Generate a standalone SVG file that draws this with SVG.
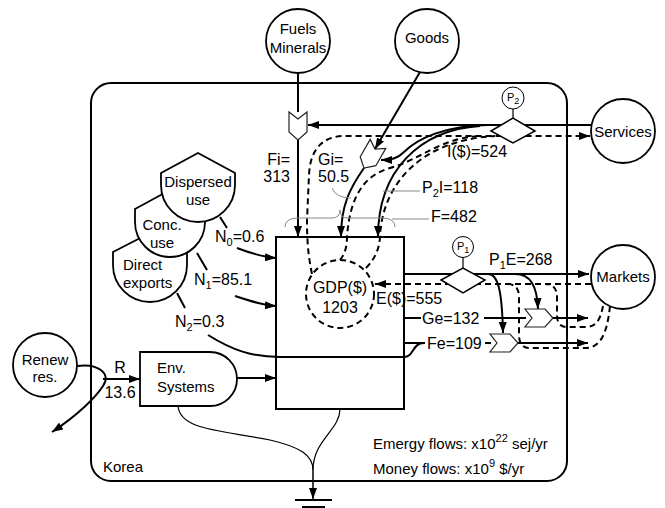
<svg xmlns="http://www.w3.org/2000/svg" width="665" height="508" viewBox="0 0 665 508">
<defs>
<marker id="ah" markerUnits="userSpaceOnUse" markerWidth="11" markerHeight="8" refX="11" refY="4" orient="auto">
<path d="M0,0 L11,4 L0,8 z" fill="#000"/>
</marker>
<style>
text{font-family:"Liberation Sans",Arial,sans-serif;fill:#000}
.lbl{font-size:16px}
.nl{font-size:15px;text-anchor:middle}
.sub{font-size:11px}
.f{fill:none;stroke:#000;stroke-width:2}
.d{fill:none;stroke:#000;stroke-width:2;stroke-dasharray:6 4}
.a{marker-end:url(#ah)}
.node{fill:#fff;stroke:#000;stroke-width:1.8}
.chev{fill:#fff;stroke:#222;stroke-width:1.2}
.thin{fill:none;stroke:#888;stroke-width:1}
</style>
</defs>
<rect width="665" height="508" fill="#fff"/>

<g id="korea">
<rect x="91" y="83" width="476" height="398" rx="20" fill="none" stroke="#000" stroke-width="2"/>
<text x="103" y="472" style="font-size:15px">Korea</text>
</g>

<g id="connectors">
<path class="f" d="M298,73 L298,112"/>
<path class="f a" d="M298,140 L298,237"/>
<path class="f a" d="M420,72 L375,149"/>
<path class="f a" d="M591,125 L308,125"/>
<path class="f a" d="M364,168 C350,188 341,205 341,237"/>
<path class="f a" d="M488,125 C445,126 418,138 404,152 C398,158 392,160 381,160"/>
<path class="f a" d="M480,126 C420,130 378,170 378,237"/>
<path class="d a" d="M312,274 C308,255 307,240 307,220 L309,175 C310,150 322,136 345,136 L590,136"/>
<path class="d" d="M340,260 Q347,252 347,237 C350,195 365,175 390,168 C420,160 440,138 480,136"/>
<path class="d" d="M366,268 Q379,255 380,237 C382,185 420,140 495,136"/>
<path class="f a" d="M404,274 L589,274"/>
<path class="d a" d="M591,284 L375,284"/>
<path class="f" d="M404,318 L421,318"/>
<path class="f" d="M484,318 L526,318"/>
<path class="f a" d="M553,318 L588,318"/>
<path class="f" d="M404,343 L425,343"/>
<path class="f" d="M485,343 L491,343"/>
<path class="f a" d="M518,343 L588,343"/>
<path class="f a" d="M488,274 C498,274 502,290 503,333"/>
<path class="f a" d="M515,274 C530,274 537,285 538,309"/>
<path class="d" d="M603,306 C600,322 595,327 585,327 L567,327 Q557,327 557,315 L557,297 Q557,284 545,284"/>
<path class="d" d="M610,306 C607,335 600,348 585,348 L530,348 Q519,348 519,335 L519,297 Q519,284 507,284"/>
<path class="f" d="M220,217 L227,228"/>
<path class="f a" d="M237,248 C250,253 262,257 276,258"/>
<path class="f" d="M197,253 L207,270"/>
<path class="f a" d="M235,296 C250,301 262,305 276,306"/>
<path class="f" d="M177,293 L185,308"/>
<path class="f" d="M208,335 C232,350 252,357 280,357 L404,357 C414,357 412,343 424,343"/>
<path class="f a" d="M77,366 C97,363 112,373 103,386 C96,397 78,415 52,432"/>
<path class="f a" d="M103,379 L140,379"/>
<path class="f a" d="M237,378 L276,378"/>
<path fill="none" stroke="#000" stroke-width="1.2" d="M340,409 C340,430 313,440 313,470"/>
<path fill="none" stroke="#000" stroke-width="1.2" d="M178,406 C180,430 220,430 270,440 C300,447 313,455 313,470"/>
<path fill="none" stroke="#000" stroke-width="1.5" class="a" d="M313,470 L313,499"/>
<path fill="none" stroke="#000" stroke-width="2" d="M295,500 L332,500 M302,507 L325,507"/>
<path class="thin" d="M332,188 Q336,198 351,198"/>
<path class="thin" d="M383,191 L420,191"/>
<path class="thin" d="M285,227 Q285,218 298,218 L332,218 Q340,218 340,210 Q340,218 348,218 L382,218 Q395,218 395,227"/>
<path class="thin" d="M392,219 L429,219"/>
</g>

<g id="fuels">
<circle class="node" cx="298" cy="41" r="32"/>
<text class="nl" x="298" y="34">Fuels</text>
<text class="nl" x="298" y="53">Minerals</text>
</g>
<g id="goods">
<circle class="node" cx="427" cy="41" r="32"/>
<text class="nl" x="427" y="43">Goods</text>
</g>
<g id="services">
<circle class="node" cx="623" cy="131" r="32"/>
<text class="nl" x="623" y="137">Services</text>
</g>
<g id="markets">
<circle class="node" cx="623" cy="277" r="32"/>
<text class="nl" x="623" y="282">Markets</text>
</g>
<g id="renew">
<circle class="node" cx="45" cy="365" r="32"/>
<text class="nl" x="45" y="365">Renew</text>
<text class="nl" x="45" y="382">res.</text>
</g>

<g id="fuels-chevron">
<path class="chev" d="M289,112 L298,119 L307,112 L307,132 L298,140 L289,132 Z"/>
</g>
<g id="goods-chevron">
<path class="chev" transform="translate(371,156) rotate(30)" d="M-9,-14 L0,-8 L9,-14 L9,6 L0,14 L-9,6 Z"/>
</g>
<g id="ge-chevron">
<path class="chev" d="M525,309 L545,309 L553,318 L545,327 L525,327 L532,318 Z"/>
</g>
<g id="fe-chevron">
<path class="chev" d="M490,334 L510,334 L518,343 L510,352 L490,352 L497,343 Z"/>
</g>

<g id="p2">
<path d="M491,131 L513,118 L535,131 L513,143 Z" fill="#fff" stroke="#000" stroke-width="1.5"/>
<path d="M513,109 L513,118" stroke="#000" stroke-width="1.2"/>
<circle cx="513" cy="98" r="11" fill="#fff" stroke="#000" stroke-width="1"/>
<text x="507" y="101" style="font-size:11px">P<tspan style="font-size:9px" dy="3">2</tspan></text>
</g>
<g id="p1">
<path d="M441,280 L463,268 L485,280 L463,293 Z" fill="#fff" stroke="#000" stroke-width="1.5"/>
<path d="M463,257 L463,268" stroke="#000" stroke-width="1.2"/>
<circle cx="463" cy="247" r="10.5" fill="#fff" stroke="#000" stroke-width="1"/>
<text x="457" y="250" style="font-size:11px">P<tspan style="font-size:9px" dy="3">1</tspan></text>
</g>

<g id="economy">
<rect x="276" y="237" width="128" height="172" fill="none" stroke="#000" stroke-width="2"/>
</g>
<g id="gdp">
<circle cx="340" cy="294" r="34" fill="none" stroke="#000" stroke-width="2" stroke-dasharray="6 4"/>
<text class="lbl" x="340" y="293" text-anchor="middle">GDP($)</text>
<text class="lbl" x="340" y="313" text-anchor="middle">1203</text>
</g>

<g id="direct-exports">
<path class="node" d="M113,252 L150,233 L187,252 L187,265 A37,37 0 0 1 113,265 Z"/>
<text x="123" y="270" style="font-size:15px">Direct</text>
<text x="123" y="288" style="font-size:15px">exports</text>
</g>
<g id="conc-use">
<path class="node" d="M135,209 L170,190 L205,209 L205,222 A35,35 0 0 1 135,222 Z"/>
<text class="nl" x="162" y="230">Conc.</text>
<text class="nl" x="162" y="248">use</text>
</g>
<g id="dispersed-use">
<path class="node" d="M161,173 L198,153 L235,173 L235,185 A37,37 0 0 1 161,185 Z"/>
<text class="nl" x="198" y="187">Dispersed</text>
<text class="nl" x="198" y="205">use</text>
</g>

<g id="env-systems">
<path class="node" d="M140,352 L210,352 A27,27 0 0 1 210,406 L140,406 Z"/>
<text x="157" y="373" style="font-size:15px">Env.</text>
<text x="157" y="392" style="font-size:15px">Systems</text>
</g>

<g id="labels" class="lbl">
<text x="290" y="165" text-anchor="end">Fi=</text>
<text x="290" y="182" text-anchor="end">313</text>
<text x="318" y="165">Gi=</text>
<text x="318" y="182">50.5</text>
<text x="447" y="157">I($)=524</text>
<text x="422" y="193">P<tspan class="sub" dy="4">2</tspan><tspan dy="-4">I=118</tspan></text>
<text x="431" y="222">F=482</text>
<text x="489" y="265">P<tspan class="sub" dy="4">1</tspan><tspan dy="-4">E=268</tspan></text>
<text x="376" y="304">E($)=555</text>
<text x="422" y="324">Ge=132</text>
<text x="427" y="349">Fe=109</text>
<text x="215" y="242">N<tspan class="sub" dy="4">0</tspan><tspan dy="-4">=0.6</tspan></text>
<text x="194" y="285">N<tspan class="sub" dy="4">1</tspan><tspan dy="-4">=85.1</tspan></text>
<text x="175" y="327">N<tspan class="sub" dy="4">2</tspan><tspan dy="-4">=0.3</tspan></text>
<text x="120" y="373" text-anchor="middle">R</text>
<text x="120" y="398" text-anchor="middle">13.6</text>
</g>

<g id="legend" style="font-size:15px">
<text x="373" y="449">Emergy flows: x10<tspan style="font-size:11px" dy="-7">22</tspan><tspan dy="7"> sej/yr</tspan></text>
<text x="373" y="474">Money flows: x10<tspan style="font-size:11px" dy="-7">9</tspan><tspan dy="7"> $/yr</tspan></text>
</g>
</svg>
